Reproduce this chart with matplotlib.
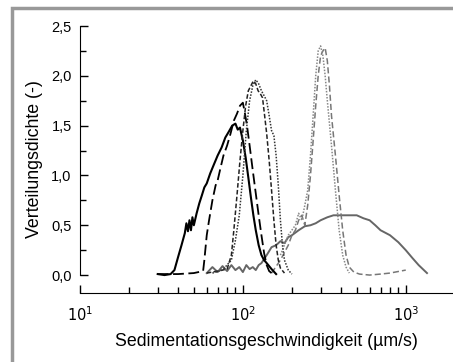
import math
import matplotlib
matplotlib.use("Agg")
import matplotlib.pyplot as plt
from matplotlib.patches import Rectangle
from matplotlib.ticker import FixedLocator, FuncFormatter, LogLocator

plt.rcParams['font.family'] = ['Liberation Sans', 'DejaVu Sans']

# curve data (velocity in um/s, density)
v_solid = [30, 33, 36, 38, 40, 42, 44, 45, 46, 47, 48, 49, 50, 52, 54, 56, 58, 60, 63, 66, 70, 74, 78, 82, 86, 90, 93, 96, 100, 104, 108, 112, 116, 120, 125, 130, 135, 140, 150, 160]
d_solid = [0.01, 0.0, 0.01, 0.05, 0.18, 0.3, 0.42, 0.52, 0.44, 0.55, 0.45, 0.58, 0.5, 0.62, 0.72, 0.8, 0.88, 0.92, 1.02, 1.1, 1.2, 1.28, 1.38, 1.44, 1.5, 1.52, 1.46, 1.48, 1.35, 1.18, 0.98, 0.78, 0.6, 0.45, 0.3, 0.2, 0.15, 0.12, 0.06, 0.01]

v_longdash = [30, 40, 50, 57, 58, 60, 62, 65, 68, 70, 73, 76, 80, 84, 88, 92, 96, 100, 103, 106, 110, 115, 120, 125, 130, 135, 140, 145, 150]
d_longdash = [0.01, 0.01, 0.02, 0.04, 0.15, 0.4, 0.55, 0.75, 0.9, 0.95, 1.08, 1.2, 1.3, 1.42, 1.55, 1.62, 1.7, 1.73, 1.62, 1.5, 1.3, 1.05, 0.82, 0.6, 0.4, 0.22, 0.1, 0.04, 0.02]

v_dash = [60, 70, 80, 85, 88, 92, 96, 100, 104, 108, 112, 116, 120, 124, 128, 132, 136, 140, 145, 150, 155, 160, 165, 170, 180]
d_dash = [0.02, 0.04, 0.06, 0.2, 0.45, 0.8, 1.15, 1.45, 1.7, 1.85, 1.9, 1.95, 1.92, 1.85, 1.82, 1.78, 1.6, 1.42, 1.15, 0.85, 0.55, 0.3, 0.15, 0.07, 0.02]

v_dot = [65, 75, 85, 90, 95, 100, 105, 110, 115, 120, 125, 130, 135, 140, 145, 150, 155, 160, 165, 170, 175, 180, 190, 200]
d_dot = [0.02, 0.05, 0.15, 0.35, 0.6, 1.0, 1.45, 1.75, 1.9, 1.96, 1.92, 1.85, 1.8, 1.75, 1.6, 1.45, 1.4, 1.2, 0.9, 0.55, 0.3, 0.15, 0.05, 0.01]

v_gray = [60, 65, 70, 75, 80, 85, 90, 95, 100, 105, 110, 115, 120, 125, 130, 140, 150, 160, 170, 180, 190, 200, 220, 240, 260, 280, 300, 330, 360, 400, 450, 500, 550, 600, 650, 700, 800, 900, 1000, 1100, 1200, 1350]
d_gray = [0.02, 0.08, 0.03, 0.09, 0.04, 0.1, 0.05, 0.08, 0.03, 0.1, 0.06, 0.08, 0.05, 0.1, 0.12, 0.2, 0.28, 0.3, 0.34, 0.32, 0.38, 0.4, 0.45, 0.49, 0.5, 0.52, 0.55, 0.58, 0.6, 0.6, 0.6, 0.6, 0.57, 0.55, 0.5, 0.45, 0.4, 0.33, 0.25, 0.17, 0.1, 0.02]

v_gdash = [150, 170, 190, 200, 210, 220, 230, 240, 250, 260, 270, 280, 290, 300, 310, 320, 330, 340, 350, 370, 390, 410, 430, 450, 480, 520, 600, 700, 800, 1000]
d_gdash = [0.02, 0.15, 0.3, 0.4, 0.45, 0.55, 0.6, 0.5, 0.7, 1.0, 1.35, 1.7, 2.0, 2.2, 2.25, 2.28, 2.15, 1.9, 1.6, 1.2, 0.8, 0.45, 0.2, 0.08, 0.03, 0.01, 0.0, 0.01, 0.02, 0.05]

v_gdot = [170, 190, 210, 220, 230, 240, 250, 260, 270, 280, 290, 300, 310, 320, 330, 350, 370, 390, 410, 430, 450]
d_gdot = [0.2, 0.4, 0.5, 0.62, 0.55, 0.7, 0.85, 1.2, 1.6, 2.0, 2.25, 2.3, 2.2, 2.0, 1.75, 1.3, 0.85, 0.45, 0.2, 0.08, 0.02]

y_ticks = [0.0, 0.5, 1.0, 1.5, 2.0, 2.5]

fig = plt.figure(figsize=(4.53, 3.62), dpi=100)
ax = fig.add_axes([80 / 453, (362 - 293) / 362, 1 - 80 / 453, (293 - 26) / 362])

ax.plot(v_gray, d_gray, color='#666666', lw=1.4, ls='-')
ax.plot(v_gdash, d_gdash, color='#777777', lw=1.1, ls=(0, (4, 2)))
ax.plot(v_gdot, d_gdot, color='#888888', lw=1.1, ls=(0, (1, 1)))
ax.plot(v_solid, d_solid, color='black', lw=1.5, ls='-')
ax.plot(v_longdash, d_longdash, color='black', lw=1.3, ls=(0, (6, 2.5)))
ax.plot(v_dash, d_dash, color='#222222', lw=1.1, ls=(0, (3, 1.5)))
ax.plot(v_dot, d_dot, color='#333333', lw=1.1, ls=(0, (1, 1)))

ax.set_xscale('log')
ax.set_xlim(10, 1950)
ax.set_ylim(-0.18, 2.5)

ax.spines['top'].set_visible(False)
ax.spines['right'].set_visible(False)
ax.spines['left'].set_bounds(0, 2.5)

ax.yaxis.set_major_locator(FixedLocator(y_ticks))
ax.yaxis.set_minor_locator(FixedLocator([0.25, 0.75, 1.25, 1.75, 2.25]))
ax.yaxis.set_major_formatter(FuncFormatter(lambda v, p: f"{v:.1f}".replace('.', ',')))
ax.xaxis.set_major_locator(LogLocator(base=10, numticks=10))
ax.xaxis.set_minor_locator(LogLocator(base=10, subs=range(2, 10), numticks=20))
ax.xaxis.set_major_formatter(FuncFormatter(lambda v, p: r"$10^{%d}$" % round(math.log10(v))))

ax.tick_params(axis='both', which='both', direction='in', labelsize=10.5, color='black')
ax.tick_params(axis='both', which='major', length=6, width=1)
ax.tick_params(axis='both', which='minor', length=4, width=1)
ax.tick_params(axis='x', pad=9)
ax.tick_params(axis='y', pad=6)

ax.set_xlabel('Sedimentationsgeschwindigkeit (µm/s)', fontsize=12.8, labelpad=6)
ax.set_ylabel('Verteilungsdichte (-)', fontsize=12.8, labelpad=6)

fig.patches.append(Rectangle((12 / 453, -0.1), 1.2, (362 - 8) / 362 + 0.1, transform=fig.transFigure,
                             fill=False, edgecolor='#999999', lw=2.5))

fig.savefig('out.png', dpi=100)
